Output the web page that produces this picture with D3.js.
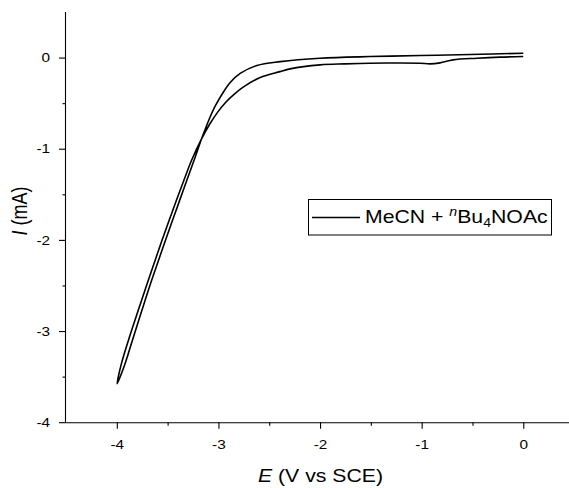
<!DOCTYPE html>
<html>
<head>
<meta charset="utf-8">
<script src="https://cdn.jsdelivr.net/npm/d3@7"></script>
<style>
  html, body { margin: 0; padding: 0; background: #fff; }
  svg { display: block; font-family: "Liberation Sans", Arial, sans-serif; }
</style>
</head>
<body>
<svg id="chart" width="569" height="488"></svg>
<script>
// ---- Data ----
// Forward scan: 0 V -> -4 V
const potentialForward = [0.000, -0.229, -0.455, -0.691, -0.819, -0.918, -1.016, -1.262, -1.508, -1.753,
  -2.000, -2.295, -2.394, -2.589, -2.753, -2.852, -2.930, -3.009, -3.088, -3.166,
  -3.263, -3.339, -3.449, -3.555, -3.690, -3.789, -3.886, -3.959, -3.997];
const currentForward = [0.011, 0.005, -0.007, -0.025, -0.058, -0.069, -0.062, -0.060, -0.062, -0.069,
  -0.080, -0.124, -0.154, -0.218, -0.322, -0.410, -0.493, -0.601, -0.734, -0.893,
  -1.124, -1.344, -1.674, -2.004, -2.444, -2.773, -3.103, -3.377, -3.578];
// Reverse scan: -4 V -> 0 V
const potentialReverse = [-3.925, -3.847, -3.753, -3.657, -3.521, -3.416, -3.310, -3.239, -3.170, -3.135,
  -3.090, -3.031, -2.963, -2.884, -2.786, -2.621, -2.392, -2.000, -1.508, -1.016, -0.524, 0.000];
const currentReverse = [-3.377, -3.103, -2.773, -2.444, -2.004, -1.674, -1.344, -1.124, -0.904, -0.800,
  -0.674, -0.531, -0.399, -0.273, -0.174, -0.086, -0.044, -0.007, 0.011, 0.022, 0.033, 0.048];

const xTickValues = [-4, -3, -2, -1, 0];
const xMinorTickValues = [-3.5, -2.5, -1.5, -0.5];
const yTickValues = [0, -1, -2, -3, -4];
const yMinorTickValues = [-0.5, -1.5, -2.5, -3.5];
const seriesLabel = "MeCN + ";

// ---- Layout ----
const svg = d3.select("#chart");
const plotLeft = 66, plotRight = 569, plotTop = 12, plotBottom = 422.2;
const stretch = 1.18;
const x = d3.scaleLinear().domain([-4.5, 0.45]).range([plotLeft, plotRight]);
const y = d3.scaleLinear().domain([-4, 0.5]).range([plotBottom, plotTop]);
const fmt = d => String(d);

// ---- Curve ----
const pts = potentialForward.map((e, i) => [e, currentForward[i]])
  .concat(potentialReverse.map((e, i) => [e, currentReverse[i]]));
const line = d3.line().x(d => x(d[0])).y(d => y(d[1])).curve(d3.curveCatmullRom.alpha(0.5));
svg.append("path").datum(pts).attr("d", line)
  .attr("fill", "none").attr("stroke", "#000").attr("stroke-width", 1.6)
  .attr("stroke-linejoin", "round");

// ---- Axes ----
function styleAxis(g) {
  g.selectAll("path.domain").attr("stroke", "#000").attr("stroke-width", 1.1);
  g.selectAll(".tick line").attr("stroke", "#000").attr("stroke-width", 1.1);
}
// X minor
svg.append("g").attr("transform", `translate(0,${plotBottom})`)
  .call(d3.axisBottom(x).tickValues(xMinorTickValues).tickSize(3.5).tickSizeOuter(0).tickFormat(""))
  .call(styleAxis).call(g => g.select(".domain").remove());
// X major
const gx = svg.append("g").attr("transform", `translate(0,${plotBottom})`)
  .call(d3.axisBottom(x).tickValues(xTickValues).tickSize(6.5).tickSizeOuter(0).tickPadding(11)
    .tickFormat(fmt))
  .call(styleAxis);
gx.selectAll(".tick text").attr("font-size", 13).attr("fill", "#000")
  .attr("font-family", "'Liberation Sans', Arial, sans-serif")
  .attr("transform", `scale(${stretch},1)`);
gx.select(".domain").attr("d", `M${plotLeft},0.5H${plotRight}`);

// Y minor
svg.append("g").attr("transform", `translate(${plotLeft},0)`)
  .call(d3.axisLeft(y).tickValues(yMinorTickValues).tickSize(3.5).tickSizeOuter(0).tickFormat(""))
  .call(styleAxis).call(g => g.select(".domain").remove());
// Y major
const gy = svg.append("g").attr("transform", `translate(${plotLeft},0)`)
  .call(d3.axisLeft(y).tickValues(yTickValues).tickSize(7).tickSizeOuter(0).tickPadding(6.5)
    .tickFormat(fmt))
  .call(styleAxis);
gy.selectAll(".tick text").attr("font-size", 13).attr("fill", "#000")
  .attr("font-family", "'Liberation Sans', Arial, sans-serif")
  .attr("transform", `scale(${stretch},1)`);
gy.select(".domain").attr("d", `M-0.5,${plotBottom}V${plotTop}`);

// ---- Axis titles ----
const xt = svg.append("g").attr("transform", `translate(320.5,481.5) scale(${stretch},1)`)
  .append("text").attr("text-anchor", "middle").attr("font-size", 18).attr("fill", "#000");
xt.append("tspan").attr("font-style", "italic").text("E");
xt.append("tspan").text(" (V vs SCE)");

const yt = svg.append("g").attr("transform", `translate(27,211) scale(${stretch},1) rotate(-90)`)
  .append("text").attr("text-anchor", "middle").attr("font-size", 18).attr("fill", "#000");
yt.append("tspan").attr("font-style", "italic").text("I");
yt.append("tspan").text(" (mA)");

// ---- Legend ----
const lg = svg.append("g");
lg.append("rect").attr("x", 308.5).attr("y", 199.5).attr("width", 243).attr("height", 35.5)
  .attr("fill", "#fff").attr("stroke", "#000").attr("stroke-width", 1);
lg.append("line").attr("x1", 312).attr("x2", 360).attr("y1", 217.5).attr("y2", 217.5)
  .attr("stroke", "#000").attr("stroke-width", 1.6);
const lt = lg.append("g").attr("transform", `translate(365,223.3) scale(${stretch},1)`)
  .append("text").attr("font-size", 18).attr("fill", "#000");
lt.append("tspan").text(seriesLabel);
lt.append("tspan").attr("font-style", "italic").attr("font-size", 12).attr("dy", -7).text("n");
lt.append("tspan").attr("dy", 7).text("Bu");
lt.append("tspan").attr("font-size", 12).attr("dy", 4).text("4");
lt.append("tspan").attr("dy", -4).text("NOAc");
</script>
</body>
</html>
